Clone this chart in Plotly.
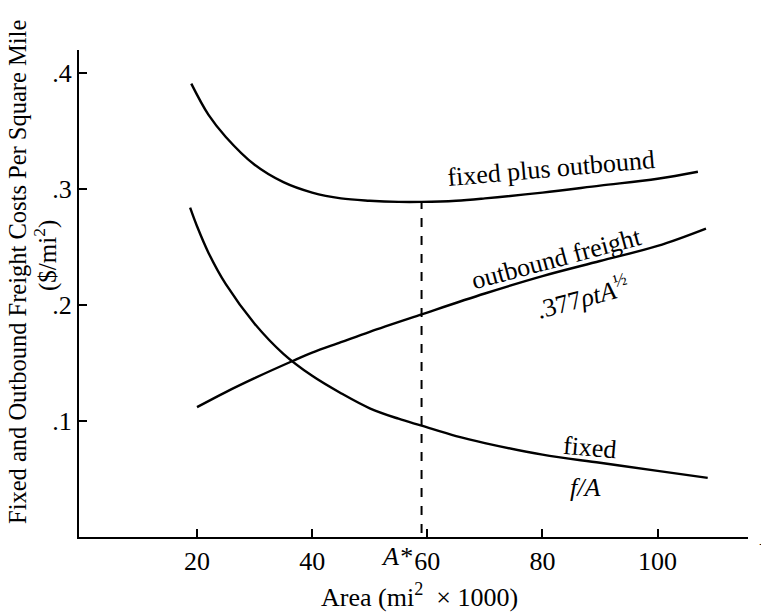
import plotly.graph_objects as go

# ---- data ----
x_total = [19, 22, 25, 30, 35, 40, 45, 50, 55, 59, 65, 70, 80, 90, 100, 107]
y_total = [0.391, 0.364, 0.345, 0.321, 0.306, 0.297, 0.292, 0.290, 0.289, 0.289,
           0.290, 0.292, 0.297, 0.303, 0.309, 0.315]

x_fixed = [18.8, 20, 22, 25, 30, 35, 40, 45, 50, 55, 59, 65, 70, 80, 90, 100, 108.7]
y_fixed = [0.284, 0.268, 0.245, 0.218, 0.184, 0.158, 0.139, 0.124, 0.111, 0.102,
           0.096, 0.087, 0.081, 0.071, 0.064, 0.057, 0.051]

x_out = [20, 25, 30, 36.7, 40, 45, 50, 59, 70, 80, 90, 100, 108.4]
y_out = [0.112, 0.125, 0.137, 0.152, 0.159, 0.168, 0.177, 0.192, 0.210, 0.225,
         0.238, 0.251, 0.266]

a_star = 59
a_star_cost = 0.289

x_tickvals = [20, 40, 60, 80, 100]
x_ticktext = ["20", "40", "60", "80", "100"]
y_tickvals = [0.1, 0.2, 0.3, 0.4]
y_ticktext = [".1", ".2", ".3", ".4"]

FONT = "Liberation Serif, Times New Roman, serif"
line_style = dict(color="black", width=2.4)

fig = go.Figure()
fig.add_trace(go.Scatter(x=x_total, y=y_total, mode="lines", line=dict(**line_style, shape="spline"),
                         showlegend=False, hoverinfo="skip"))
fig.add_trace(go.Scatter(x=x_fixed, y=y_fixed, mode="lines", line=dict(**line_style, shape="spline"),
                         showlegend=False, hoverinfo="skip"))
fig.add_trace(go.Scatter(x=x_out, y=y_out, mode="lines", line=dict(**line_style, shape="spline"),
                         showlegend=False, hoverinfo="skip"))
fig.add_trace(go.Scatter(x=[a_star, a_star], y=[-0.012, a_star_cost], mode="lines",
                         line=dict(color="black", width=2, dash="dash"),
                         showlegend=False, hoverinfo="skip", cliponaxis=False))

def ann(text, x, y, angle=0, size=26, xref="x", yref="y", xanchor="center", yanchor="middle"):
    fig.add_annotation(text=text, x=x, y=y, xref=xref, yref=yref, showarrow=False,
                       textangle=angle, xanchor=xanchor, yanchor=yanchor,
                       font=dict(family=FONT, size=size, color="black"))

PW, PH = 669, 487  # plot area size in px
def px(page_x):
    return (page_x - 79) / PW
def py(page_y):
    return (537 - page_y) / PH

ann("fixed plus outbound", 81.5, 0.318, angle=-5)
ann("outbound freight", 82.5, 0.2405, angle=-15)
ann(".377<i>ρtA</i><sup>½</sup>", 87, 0.207, angle=-15)
ann("fixed", 88.2, 0.077, angle=5)
ann("<i>f/A</i>", 87.4, 0.043)
ann("<i>A*</i>", px(396), py(556), xref="paper", yref="paper")
ann("<i>A</i>", px(757), py(536), xref="paper", yref="paper", xanchor="left")

# axis titles placed as annotations
ann("Fixed and Outbound Freight Costs Per Square Mile", px(17), py(272),
    angle=-90, size=24.5, xref="paper", yref="paper")
ann("($/mi<sup>2</sup>)", px(45), py(256), angle=-90, size=25, xref="paper", yref="paper")
ann("Area (mi<sup>2</sup>  × 1000)", px(420), py(595), size=26, xref="paper", yref="paper")

fig.update_layout(
    width=769, height=614,
    margin=dict(l=71, r=29, t=42, b=85),
    paper_bgcolor="white", plot_bgcolor="white",
    font=dict(family=FONT, size=26, color="black"),
    xaxis=dict(range=[-0.5, 115.7], showgrid=False, zeroline=False, showline=True,
               linecolor="black", linewidth=2, ticks="inside", ticklen=8, tickwidth=2,
               tickcolor="black", tickvals=x_tickvals, ticktext=x_ticktext,
               tickfont=dict(family=FONT, size=26)),
    yaxis=dict(range=[0, 0.42], showgrid=False, zeroline=False, showline=True,
               linecolor="black", linewidth=2, ticks="inside", ticklen=8, tickwidth=2,
               tickcolor="black", tickvals=y_tickvals, ticktext=y_ticktext,
               tickfont=dict(family=FONT, size=26)),
)

fig.write_html("out.html")
